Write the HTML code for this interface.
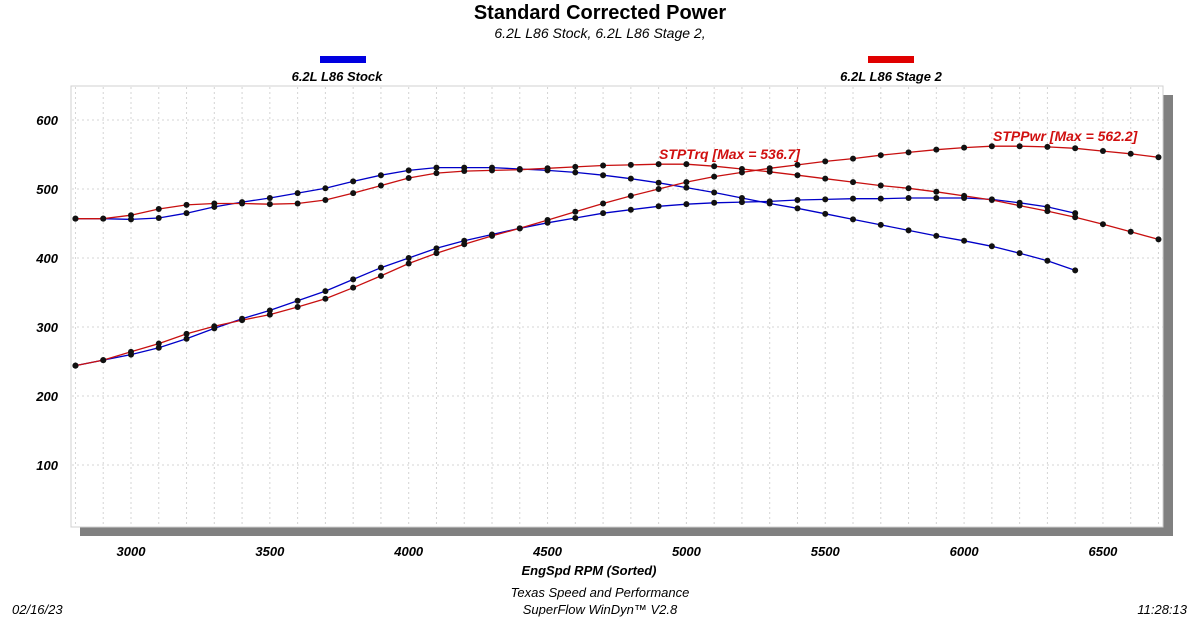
<!DOCTYPE html>
<html><head><meta charset="utf-8"><style>
body{margin:0;background:#fff;width:1200px;height:618px;overflow:hidden}
svg text{font-family:"Liberation Sans",Arial,sans-serif}
</style></head><body>
<svg id="s" width="1200" height="618" xmlns="http://www.w3.org/2000/svg">
<rect x="80" y="95" width="1093" height="441" fill="#808080"/>
<rect x="71" y="86" width="1092" height="441" fill="#fff" stroke="#d0d0d0" stroke-width="1"/>
<g id="grid"></g>
<g id="series"></g>
<text x="600" y="19" text-anchor="middle" font-size="20" font-weight="bold">Standard Corrected Power</text>
<text x="600" y="38" text-anchor="middle" font-size="14" font-style="italic">6.2L L86 Stock, 6.2L L86 Stage 2,</text>
<rect x="320" y="56" width="46" height="7" fill="#0000e0"/>
<text x="337" y="81" text-anchor="middle" font-size="13" font-weight="bold" font-style="italic">6.2L L86 Stock</text>
<rect x="868" y="56" width="46" height="7" fill="#e00000"/>
<text x="891" y="81" text-anchor="middle" font-size="13" font-weight="bold" font-style="italic">6.2L L86 Stage 2</text>
<text x="659" y="159" font-size="14" font-weight="bold" font-style="italic" fill="#d01010">STPTrq [Max = 536.7]</text>
<text x="993" y="141" font-size="14" font-weight="bold" font-style="italic" fill="#d01010">STPPwr [Max = 562.2]</text>
<g font-size="13" font-weight="bold" font-style="italic" text-anchor="end" id="yl"></g>
<g font-size="13" font-weight="bold" font-style="italic" text-anchor="middle" id="xl"></g>
<text x="589" y="575" text-anchor="middle" font-size="13" font-weight="bold" font-style="italic">EngSpd  RPM   (Sorted)</text>
<text x="600" y="597" text-anchor="middle" font-size="13" font-style="italic">Texas Speed and Performance</text>
<text x="600" y="614" text-anchor="middle" font-size="13" font-style="italic">SuperFlow WinDyn™ V2.8</text>
<text x="12" y="614" font-size="13" font-style="italic">02/16/23</text>
<text x="1187" y="614" text-anchor="end" font-size="13" font-style="italic">11:28:13</text>
</svg>
<script>
var NS="http://www.w3.org/2000/svg";
function X(r){return 131+(r-3000)*0.2777;}
function Y(v){return 534-0.69*v;}
function el(t,a,p){var e=document.createElementNS(NS,t);for(var k in a)e.setAttribute(k,a[k]);p.appendChild(e);return e;}
var g=document.getElementById('grid');
for(var r=2800;r<=6700;r+=100){el('line',{x1:X(r),x2:X(r),y1:87,y2:527,stroke:'#d4d4d4','stroke-dasharray':'2,3','stroke-width':1},g);}
for(var v=100;v<=600;v+=100){el('line',{x1:72,x2:1163,y1:Y(v),y2:Y(v),stroke:'#d4d4d4','stroke-dasharray':'2,3','stroke-width':1},g);
var t=el('text',{x:58,y:Y(v)+5},document.getElementById('yl'));t.textContent=v;}
for(var r=3000;r<=6500;r+=500){var t=el('text',{x:X(r),y:556},document.getElementById('xl'));t.textContent=r;}
var bT=[457,457,456,458,465,474,481,487,494,501,511,520,527,531,531,531,529,527,524,520,515,509,502,495,487,479,472,464,456,448,440,432,425,417,407,396,382];
var bP=[244,252,260,270,283,298,312,324,338,352,369,386,400,414,425,434,443,451,458,465,470,475,478,480,481,482,484,485,486,486,487,487,487,485,480,474,465];
var rT=[457,457,462,471,477,479,479,478,479,484,494,505,516,523,526,527,528,530,532,534,535,536,536,533,529,525,520,515,510,505,501,496,490,484,476,468,459,449,438,427];
var rP=[244,252,264,276,290,301,310,318,329,341,357,374,392,407,420,432,443,455,467,479,490,500,510,518,524,530,535,540,544,549,553,557,560,562,562,561,559,555,551,546];
var s=document.getElementById('series');
function draw(d,c){var p=d.map(function(v,i){return X(2800+i*100).toFixed(1)+','+Y(v).toFixed(1);}).join(' ');
el('polyline',{points:p,fill:'none',stroke:c,'stroke-width':1.3},s);
d.forEach(function(v,i){el('circle',{cx:X(2800+i*100),cy:Y(v),r:3,fill:'#111'},s);});}
draw(bT,'#0000c8');draw(bP,'#0000c8');draw(rT,'#c81010');draw(rP,'#c81010');
</script>
</body></html>
